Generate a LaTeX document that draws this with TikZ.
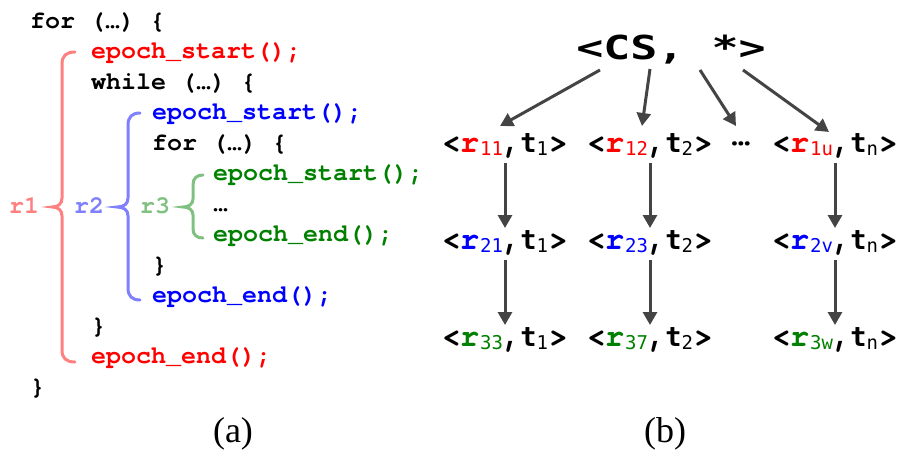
\documentclass[tikz,border=0pt]{standalone}
\usepackage{fontspec}
\usepackage{xcolor}
\usetikzlibrary{arrows.meta}
\setmainfont{Liberation Serif}
\newfontfamily\codefont{TeX Gyre Cursor}
\newfontfamily\tfont{DejaVu Sans Mono}
\newfontfamily\csfont[FakeStretch=1.36]{DejaVu Sans Mono}

\definecolor{cred}{HTML}{FF0000}
\definecolor{cblue}{HTML}{0000FF}
\definecolor{cgreen}{HTML}{008000}
\definecolor{bred}{HTML}{FF8080}
\definecolor{bblue}{HTML}{8080FF}
\definecolor{bgreen}{HTML}{80C080}
\definecolor{arr}{HTML}{444444}

% pieces of a <r, t> pair
\newcommand\cbig[1]{{\codefont\bfseries\fontsize{32}{32}\selectfont #1}}
\newcommand\subf[1]{\raisebox{-3pt}{\tfont\fontsize{19}{19}\selectfont #1}}
\newcommand\pairlbl[3]{\cbig{<}\kern-1pt\cbig{\textcolor{#1}{r}}\kern1pt\subf{\textcolor{#1}{#2}}\kern-1pt\cbig{,}\kern-1pt{\tfont\bfseries\fontsize{27}{27}\selectfont t}\subf{#3}\kern1pt\cbig{>}}

\begin{document}
\begin{tikzpicture}[x=1pt,y=-1pt,
  code/.style={anchor=base west,inner sep=0pt,font=\codefont\bfseries\fontsize{25}{30}\selectfont},
  brace/.style={line width=3pt,line cap=round},
  pairnode/.style={inner sep=0pt,anchor=base},
  flow/.style={draw=arr,line width=3pt,-{Triangle[length=13pt,width=14pt]}},
  captext/.style={anchor=base,inner sep=0pt,font=\fontsize{36}{40}\selectfont}]
\useasboundingbox (0,0) rectangle (903,450);

% ---- (a) nested epochs in code ----
\node[code] (l1)  at (30,28)    {for (…) \{};
\node[code,text=cred] (l2)  at (91,58.5)  {epoch\_start();};
\node[code] (l3)  at (91,89)    {while (…) \{};
\node[code,text=cblue] (l4)  at (152,119.5) {epoch\_start();};
\node[code] (l5)  at (152,150)  {for (…) \{};
\node[code,text=cgreen] (l6)  at (213,180.5) {epoch\_start();};
\node[code] (l7)  at (213,211)  {…};
\node[code,text=cgreen] (l8)  at (213,241.5) {epoch\_end();};
\node[code] (l9)  at (152,272)  {\}};
\node[code,text=cblue] (l10) at (152,302.5) {epoch\_end();};
\node[code] (l11) at (91,333)   {\}};
\node[code,text=cred] (l12) at (91,363.5)  {epoch\_end();};
\node[code] (l13) at (30,394)   {\}};

% region braces
\draw[brace,bred] (75,52) .. controls (66,52) and (62,56) .. (62,64) -- (62,198)
  .. controls (62,204) and (58,207) .. (52,207) .. controls (58,207) and (62,210) .. (62,216)
  -- (62,350) .. controls (62,358) and (66,362) .. (75,362);
\draw[brace,bblue] (140,113) .. controls (132,113) and (128,117) .. (128,125) -- (128,198)
  .. controls (128,204) and (124,207) .. (117,207) .. controls (124,207) and (128,210) .. (128,216)
  -- (128,288) .. controls (128,296) and (132,300) .. (140,300);
\draw[brace,bgreen] (203,175) .. controls (197,175) and (193,178) .. (193,185) -- (193,199)
  .. controls (193,204) and (189,207) .. (183,207) .. controls (189,207) and (193,210) .. (193,215)
  -- (193,229) .. controls (193,235) and (197,238) .. (203,238);
\node[code,text=bred]   (r1) at (9,213)   {r1};
\node[code,text=bblue]  (r2) at (74,213)  {r2};
\node[code,text=bgreen] (r3) at (140,213) {r3};

\node[captext] (capa) at (233,442) {(a)};

% ---- (b) epoch tree ----
\node[inner sep=0pt,anchor=base] (cs) at (671,59)
  {\csfont\bfseries\fontsize{33}{36}\selectfont <CS, *>};

\node[pairnode] (n11) at (505,152) {\pairlbl{cred}{11}{1}};
\node[pairnode] (n12) at (650,152) {\pairlbl{cred}{12}{2}};
\node[pairnode] (dots) at (741,152) {\raisebox{7pt}{\cbig{…}}};
\node[pairnode] (n1u) at (835,152) {\pairlbl{cred}{1u}{n}};

\node[pairnode] (n21) at (505,249) {\pairlbl{cblue}{21}{1}};
\node[pairnode] (n23) at (650,249) {\pairlbl{cblue}{23}{2}};
\node[pairnode] (n2v) at (835,249) {\pairlbl{cblue}{2v}{n}};

\node[pairnode] (n33) at (505,346) {\pairlbl{cgreen}{33}{1}};
\node[pairnode] (n37) at (650,346) {\pairlbl{cgreen}{37}{2}};
\node[pairnode] (n3w) at (835,346) {\pairlbl{cgreen}{3w}{n}};

\coordinate (cs1) at (600,70);
\coordinate (cs2) at (650,69);
\coordinate (cs3) at (700,70);
\coordinate (cs4) at (743,70);
\coordinate (t11) at (500,126);
\coordinate (t12) at (642,126);
\coordinate (tdd) at (736,126);
\coordinate (t1u) at (829,132);

\draw[flow] (cs1) -- (t11);
\draw[flow] (cs2) -- (t12);
\draw[flow] (cs3) -- (tdd);
\draw[flow] (cs4) -- (t1u);

\draw[flow] ([yshift=-11pt]n11.base) -- ([yshift=21pt]n21.base);
\draw[flow] ([yshift=-11pt]n12.base) -- ([yshift=21pt]n23.base);
\draw[flow] ([yshift=-11pt]n1u.base) -- ([yshift=21pt]n2v.base);
\draw[flow] ([yshift=-11pt]n21.base) -- ([yshift=21pt]n33.base);
\draw[flow] ([yshift=-11pt]n23.base) -- ([yshift=21pt]n37.base);
\draw[flow] ([yshift=-11pt]n2v.base) -- ([yshift=21pt]n3w.base);

\node[captext] (capb) at (665,442) {(b)};
\end{tikzpicture}
\end{document}
